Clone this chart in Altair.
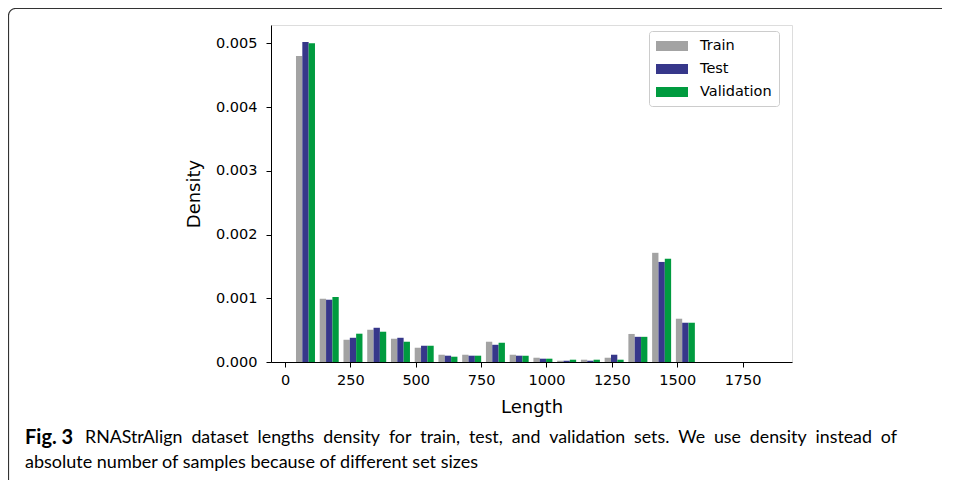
import altair as alt
import pandas as pd

# ---- data ----
bin_left = [33.0, 123.8, 214.6, 305.4, 396.2, 487.0, 577.8, 668.6, 759.4, 850.2,
            941.0, 1031.8, 1122.6, 1213.4, 1304.2, 1395.0, 1485.8, 1576.6, 1667.4, 1758.2]
bin_width = 90.8
series = ["Train", "Test", "Validation"]
colors = ["#a3a3a3", "#36378a", "#009b3f"]
train = [0.00480, 0.000992, 0.000349, 0.000506, 0.000365, 0.000224, 0.000114, 0.000114,
         0.000318, 0.000114, 0.000067, 0.000020, 0.000036, 0.000067, 0.000440, 0.001713,
         0.000679, 0.0, 0.0, 0.0]
test = [0.00502, 0.000977, 0.000380, 0.000537, 0.000380, 0.000255, 0.000099, 0.000099,
        0.000270, 0.000099, 0.000052, 0.000020, 0.000020, 0.000114, 0.000395, 0.001570,
        0.000616, 0.0, 0.0, 0.0]
validation = [0.00500, 0.00102, 0.000444, 0.000475, 0.000318, 0.000255, 0.000083, 0.000099,
              0.000302, 0.000099, 0.000052, 0.000036, 0.000036, 0.000036, 0.000395, 0.001620,
              0.000616, 0.0, 0.0, 0.0]
x_ticks = [0, 250, 500, 750, 1000, 1250, 1500, 1750]
y_ticks = [0.0, 0.001, 0.002, 0.003, 0.004, 0.005]
caption_bold = "Fig. 3"
caption_1 = ("RNAStrAlign dataset lengths density for train, test, and validation sets. "
             "We use density instead of")
caption_2 = "absolute number of samples because of different set sizes"

# ---- build table ----
rows = []
bar_w = 0.8 * bin_width / 3
for i, left in enumerate(bin_left):
    for j, (name, vals) in enumerate(zip(series, [train, test, validation])):
        x0 = left + 0.1 * bin_width + j * bar_w
        rows.append({"series": name, "x0": x0, "x1": x0 + bar_w,
                     "density": vals[i], "base": 0.0})
df = pd.DataFrame(rows)

W, H = 521, 337
FONT = "DejaVu Sans"
CAPFONT = "Lato"

bars = alt.Chart(df).mark_rect().encode(
    x=alt.X("x0:Q", scale=alt.Scale(domain=[-53.5, 1939], nice=False, zero=False),
            axis=alt.Axis(title="Length", values=x_ticks, format="d", grid=False,
                          labelFont=FONT, labelFontSize=14.5, labelColor="black",
                          titleFont=FONT, titleFontSize=18, titleFontWeight="normal",
                          titleColor="black", tickColor="black", tickSize=5,
                          domainColor="black", labelPadding=6, titlePadding=12)),
    x2="x1:Q",
    y=alt.Y("density:Q", scale=alt.Scale(domain=[0, 0.005287], nice=False),
            axis=alt.Axis(title="Density", values=y_ticks, format=".3f", grid=False,
                          labelFont=FONT, labelFontSize=14.5, labelColor="black",
                          titleFont=FONT, titleFontSize=18, titleFontWeight="normal",
                          titleColor="black", tickColor="black", tickSize=5,
                          domainColor="black", labelPadding=9, titlePadding=12)),
    y2="base:Q",
    color=alt.Color("series:N",
                    scale=alt.Scale(domain=series, range=colors),
                    legend=alt.Legend(title=None, orient="none", legendX=378, legendY=6,
                                      symbolType="M-2,-0.625H2V0.625H-2Z",
                                      symbolSize=256, symbolStrokeWidth=0,
                                      symbolOpacity=1, symbolOffset=8,
                                      labelFont=FONT, labelFontSize=14.5,
                                      labelColor="black", labelOffset=20,
                                      fillColor="white", strokeColor="#cccccc",
                                      cornerRadius=3, padding=7, rowPadding=8)),
)

one = pd.DataFrame({"a": [0]})
frame = alt.Chart(one).mark_rect(fill=None, stroke="#333333", strokeWidth=1.2,
                                 cornerRadius=7).encode(
    x=alt.value(-262.5), x2=alt.value(720), y=alt.value(-16.5), y2=alt.value(480))

# the first caption line is justified in the reference: widen its word gaps (en spaces)
cap = pd.DataFrame({"b": [caption_bold],
                    "c1": [caption_1.replace(" ", "\u2002")],
                    "c2": [caption_2]})
cap_bold = alt.Chart(cap).mark_text(font=CAPFONT, fontSize=20, fontWeight="bold",
                                    align="left", baseline="middle", color="black").encode(
    text="b:N", x=alt.value(-246), y=alt.value(412.5))
cap_l1 = alt.Chart(cap).mark_text(font=CAPFONT, fontSize=17.8, align="left",
                                  baseline="middle", color="black").encode(
    text="c1:N", x=alt.value(-186), y=alt.value(412.5))
cap_l2 = alt.Chart(cap).mark_text(font=CAPFONT, fontSize=18, align="left",
                                  baseline="middle", color="black").encode(
    text="c2:N", x=alt.value(-246), y=alt.value(437.5))

chart = alt.layer(frame, bars, cap_bold, cap_l1, cap_l2).properties(
    width=W, height=H,
    autosize=alt.AutoSizeParams(type="none"),
    padding={"left": 263, "top": 17, "right": 150, "bottom": 118},
).configure_view(stroke="black", strokeWidth=1.2).configure(background="white")

chart.save("out.html", embed_options={"renderer": "svg", "actions": False})
